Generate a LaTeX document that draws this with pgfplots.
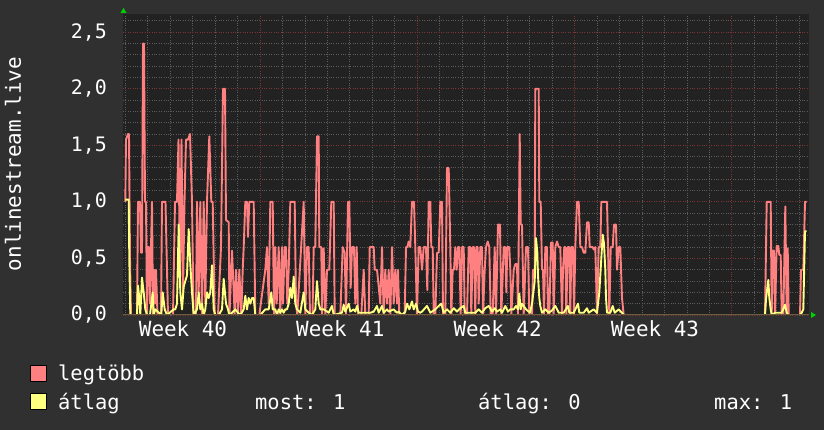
\documentclass[border=0pt]{standalone}
\usepackage{fontspec}
\setmainfont{DejaVu Sans Mono}
\usepackage{pgfplots}
\pgfplotsset{compat=1.18}
\definecolor{outerbg}{RGB}{48,48,48}
\definecolor{plotbg}{RGB}{34,34,34}
\definecolor{redl}{RGB}{255,128,128}
\definecolor{yell}{RGB}{255,255,128}
\definecolor{gridminor}{RGB}{92,92,92}
\definecolor{gridmajor}{RGB}{125,52,52}
\definecolor{axisol}{RGB}{105,95,60}
\definecolor{arrowg}{RGB}{0,210,0}
\begin{document}
\begin{tikzpicture}
\useasboundingbox (0,0) rectangle (824bp,430bp);
\fill[outerbg] (0,0) rectangle (824bp,430bp);
\begin{axis}[
  at={(123bp,115bp)}, anchor=south west,
  scale only axis, width=686bp, height=301bp,
  xmin=123, xmax=809, ymin=0, ymax=2.661,
  axis background/.style={fill=plotbg},
  axis line style={draw=none},
  major tick length=0pt, minor tick length=0pt,
  /pgf/number format/assume math mode=true,
  xtick={183,340.3,497.6,654.9},
  xticklabels={Week 40,Week 41,Week 42,Week 43},
  minor xtick={125.2,147.67,170.14,192.61,215.08,237.55,282.49,304.96,327.43,349.9,372.37,394.84,439.78,462.25,484.72,507.19,529.66,552.13,597.07,619.54,642.01,664.48,686.95,709.42,754.36,776.83,799.3},
  extra x ticks={260.02,417.31,574.6,731.89},
  extra x tick labels={},
  extra x tick style={grid=major},
  ytick={0,0.5,1,1.5,2,2.5},
  yticklabels={{0,0},{0,5},{1,0},{1,5},{2,0},{2,5}},
  minor ytick={0.1,0.2,0.3,0.4,0.6,0.7,0.8,0.9,1.1,1.2,1.3,1.4,1.6,1.7,1.8,1.9,2.1,2.2,2.3,2.4,2.6},
  xminorgrids, yminorgrids, ymajorgrids,
  minor grid style={gridminor, dotted, line width=0.9bp},
  major grid style={gridmajor, dotted, line width=0.9bp},
  yticklabel style={font=\fontsize{20}{24}\selectfont, text=white, anchor=east, inner sep=0pt, xshift=-16bp},
  xticklabel style={font=\fontsize{21}{24}\selectfont, text=white, anchor=base, inner sep=0pt, yshift=-22bp},
  unbounded coords=jump,
  clip=true,
]
\addplot[redl, line width=1.9bp, line join=round] coordinates {
(125.3,1.0)(126,1.55)(128,1.6)(129,1.6)(130,0.5)(131,0)(137,0)(138,1.0)(140,1.0)(141,0.55)(142,0.55)(143,2.4)(144,2.4)(145,1.0)(146,1.0)(147,0)(148,0.6)(149,0.6)(150,0.1)(151,0.6)(152,1.0)(153,0)(154,0.4)(155,0.1)(156,0.4)(157.5,0)(161,0)(162,1.0)(165.5,1.0)(166.5,0.6)(168,0)(173,0)(175,1.0)(177,1.0)(178.5,1.55)(180,0.3)(181.5,1.55)(183,0.2)(184.5,1.0)(186,1.55)(188,1.55)(190,1.6)(192,1.0)(193.5,0)(196,0)(197,1.0)(198.7,0.2)(200.3,1.0)(202,0)(203.7,1.0)(205.3,0.1)(207,1.0)(209.3,1.58)(211.3,1.0)(212.7,1.0)(214.7,0)(218,0)(221,0.6)(223,2.0)(225,2.0)
(226,0.84)(228.7,0.82)(229.5,0)(232,0.57)(234.7,0)(236,0.4)(238,0)(239.3,0.4)(241.3,0)(242.7,0.4)(243.7,0.6)(245.3,1.0)(247,1.0)(248,0.69)(249.3,1.0)(253.7,1.0)(255.3,0)(259.3,0)(265.3,0.4)(267,0.6)(268.7,0.1)(270.3,1.0)(272.7,1.0)(274,0)(275.3,0.6)(276.7,0.1)(278.7,0.6)(280.3,0)(282,0.6)(283,0.1)(284.7,0.6)(286,0.6)(287.3,0.1)(288.7,0.4)(290.3,1.0)(294.7,1.0)(296,0.1)(297.3,0)(303.7,1.0)(305.3,0)(307,0.6)(308.7,0.6)(310,0)(312.5,0)(313.7,0.6)(315.3,0.6)(317,1.58)(318.7,1.58)(319.3,0.6)(321.3,0.6)(322,0)
(323.7,0.59)(325.3,0)(327,0.4)(329.3,0.4)(331.3,1.0)(333.7,1.0)(334.7,0)(340.3,0)(342.7,0.6)(344.7,0.55)(346,0)(348,1.0)(349.3,1.0)(350.7,0.24)(352,0.6)(354,0.6)(355.3,0.1)(356.7,0.6)(358,0)(361.3,0)(363.7,0.4)(365.3,0)(368.7,0)(369.7,0.6)(373.7,0.6)(374.7,0.4)(377,0.4)(378.7,0.25)(380.3,0.1)(382,0.6)(383.7,0)(385.3,0.4)(387,0.1)(388.7,0.4)(390.3,0)(392,0.6)(393.7,0.1)(395.3,0.4)(397,0.1)(398,0.4)(399.3,0)(404.7,0)(406,0.6)(407.3,0.6)(408.7,0.65)(410.3,0.6)(412,1.0)(414,1.0)(415.3,0.6)(417,0)(418.7,0.6)(420.3,0.6)(422,0.4)(423.7,0.6)
(426,0.6)(427.3,0.22)(428.7,1.0)(430.3,1.0)(431.3,0.6)(432.7,0.6)(433.7,0)(435.3,0)(437,0.55)(438.7,0.55)(440.3,1.0)(442,1.0)(443,0)(445.3,0)(447,1.3)(448.7,1.3)(450.3,0.6)(451.3,0)(452.7,0.4)(454,0.4)(455.3,0.6)(456.7,0.4)(458,0.6)(459.3,0.6)(460.7,0)(462,0.6)(463.7,0.6)(464.7,0)(467,0)(468.7,0.6)(470.3,0.6)(471.3,0)(472.7,0.6)(474,0.6)(475.3,0)(476.3,0.6)(477.7,0.6)(478.7,0.1)(480.3,0.6)(482,0.6)(483,0)(484.7,0.4)(486,0.6)(487.7,0.65)(489.3,0.6)(490.7,0)(492.7,0)(494.7,0.6)(496,0)(498,0.8)(500,0.8)(501.3,0)(503.7,0.6)(505.3,0.6)(506.3,0.2)(507.3,0.6)(509.3,0.6)(510.3,0.4)(511.3,0)(513.7,0.4)(515.3,0.45)(517,0.45)(518,0)(519.7,1.6)(520.7,0.8)(522,0.8)
(523.7,0)(526,0.6)(528,0.6)(529.3,0)(532,0)(533,0.4)(534.7,0.4)(535.3,2.0)(538.7,2.0)(539.3,1.0)(540.7,1.0)(542,0.4)(543,0.4)(544,0)(545.3,0.6)(547,0.6)(548,0)(549.3,0)(551,0.64)(552.7,0.64)(553.7,0)(555.3,0.6)(557,0.65)(558.7,0.6)(560.3,0.6)(562,0)(563,0.4)(564.3,0.6)(565.3,0.6)(566.3,0)(567.7,0.6)(569.3,0.6)(570.3,0)(571.3,0.6)(573,0.6)(574,0)(575.3,0.6)(577,1.0)(578.7,1.0)(580.3,0.6)(582,0.6)(583.7,0.55)(585.3,0.55)(587,0.82)(588.7,0.82)(589.7,0.6)(591.3,0.6)(592.7,0.6)(593.7,0.58)(595.3,0.6)(597,0)(598.7,0.6)(600.3,0.6)(601.3,1.0)(607,1.0)(608,0.6)(609.3,0)(610.7,0.6)(612.7,0.6)(614,0.8)(616,0.8)(617,0.4)(618.7,0.6)(620.3,0.6)(622,0.15)(623.7,0)
(700,nan)
(765,0)(766.7,1.0)(770.7,1.0)(771.7,0)(772.7,0.57)(774,0.57)(775,0)(776.7,0.61)(778.3,0.61)(779.3,0.53)(780.7,0.53)(781.7,0)(783.3,0)(785.3,0.96)(786.7,0)(787.7,0.59)(788.7,0)(800,0)(801,0.4)(803.3,0.4)(805,1.0)(806.7,1.0)
};
\addplot[yell, line width=1.9bp, line join=round] coordinates {
(125.3,1.02)(128.7,1.02)(129.3,0.5)(130.3,0)(137,0)(138,0.26)(139.3,0.15)(140.3,0)(142,0.33)(143.7,0.2)(145.3,0.05)(147,0)(150,0)(152.7,0.2)(153.7,0)(155.3,0.05)(161.3,0)(162.7,0.2)(164.7,0.05)(167,0)(173.7,0.05)(175.3,0.05)(177,0.1)(178.7,0.8)(180.3,0.2)(182,0.05)(183.7,0.25)(185.3,0.3)(187,0.35)(188.7,0.76)(190.3,0.45)(192,0.2)(193.7,0)(197,0.05)(198.7,0.2)(200.3,0.05)(202,0.1)(203.7,0)(205.3,0.05)(207,0.2)(208.7,0.15)(210.3,0.2)(212,0.44)(213.7,0.05)(215.3,0)(218.7,0)(222,0.05)
(223.7,0.32)(226,0.1)(228,0.05)(229.3,0)(232,0.02)(235.3,0.05)(238,0.02)(240.3,0)(243.7,0.05)(245.3,0.17)(247,0.05)(248.7,0.15)(250.3,0.1)(252,0.15)(253.7,0.15)(255.3,0)(260.3,0)(265.3,0.05)(268.7,0.05)(271.3,0.2)(272.7,0.05)(275.3,0.05)(277,0)(278.7,0.05)(280.3,0.02)(282,0.05)(283.7,0.02)(285.3,0.05)(287,0.05)(288.7,0.1)(290.3,0.24)(292,0.15)(293.7,0.34)(295.3,0.1)(297,0.05)(300.3,0.02)(303.7,0.2)(305.3,0.05)(308.7,0.02)(312,0)(315.3,0.05)(317,0.3)(318.7,0.1)(320.3,0.05)
(323.7,0.05)(328.7,0.02)(332,0.08)(333.7,0)(342,0.02)(343.7,0.09)(345.3,0.03)(348.7,0.1)(350.3,0.03)(353.7,0.05)(355.3,0.03)(357,0.08)(358.7,0.02)(368.7,0.02)(370.3,0.02)(373.7,0.03)(377,0.08)(378.7,0.02)(380.3,0.05)(382,0.08)(383.7,0.02)(387,0.05)(388.7,0.03)(393.7,0.05)(397,0.02)(398.7,0.03)(402,0)(405.3,0.03)(407,0.1)(409.3,0.05)(412,0.12)(413.7,0.05)(416,0.1)(418,0.03)(420.3,0.02)
(422,0.03)(427,0.08)(430.3,0.02)(435.3,0.05)(438.7,0.08)(441.3,0.1)(443.7,0.02)(447,0.05)(450.3,0.02)(453.7,0.06)(457,0.03)(460.3,0.06)(463.7,0.08)(465.3,0.02)(468.7,0.02)(472,0.02)(475.3,0.02)(478.7,0.05)(482,0.02)(485.3,0.06)(488.7,0.08)(492,0.03)(494.7,0.06)(497,0.03)(500.3,0.05)(502,0.02)(505.3,0.08)(508,0.03)(510.3,0.05)(513.7,0.05)(516,0.08)(518,0.05)(519.3,0.19)(520.7,0.05)
(522,0.1)(526,0.05)(530,0.02)(532,0.1)(534.7,0.3)(536,0.68)(537.3,0.55)(538,0.35)(539.3,0.15)(540.3,0.08)(542,0.02)(545.3,0.05)(548.7,0.02)(552,0.04)(555.3,0.08)(558.7,0.02)(563.7,0.02)(568,0.08)(569.3,0.02)(573.7,0.02)(578,0.1)(579.3,0.02)(583.7,0.02)(587,0.06)(588.7,0.02)(593.7,0.05)(597,0.02)(599.3,0.2)(601.3,0.5)(602.7,0.71)(604,0.63)(605.3,0.4)(606,0.15)(607,0.02)(610.3,0.02)(612.7,0.08)(614.7,0.02)(618.7,0.05)(622,0.02)(623.7,0)
(700,nan)
(765,0)(766,0.14)(768.3,0.31)(769.3,0.15)(770.7,0.05)(771.7,0)(775,0.02)(778.3,0.02)(781.7,0.02)(785,0.09)(786.7,0.02)(788.3,0)(800,0)(801.7,0.02)(803.3,0.05)(805,0.74)(806.7,0.74)
};
\draw[axisol, line width=1bp] (rel axis cs:0,0) -- (rel axis cs:1,0);
\end{axis}
% axis arrows
\fill[arrowg] (120.5bp,417bp) -- (126.5bp,417bp) -- (123.5bp,422bp) -- cycle;
\fill[arrowg] (811bp,118bp) -- (811bp,112bp) -- (816bp,115bp) -- cycle;
% y label
\node[rotate=90, text=white, font=\fontsize{21}{24}\selectfont, inner sep=0pt] at (13bp,266bp) {onlinestream.live};
% legend
\fill[redl, draw=black, line width=0.8bp] (30.5bp,48.3bp) rectangle (46.3bp,65bp);
\fill[yell, draw=black, line width=0.8bp] (30.5bp,20.7bp) rectangle (46.3bp,36.7bp);
\node[anchor=base west, inner sep=0pt, text=white, font=\fontsize{20.5}{24}\selectfont] at (58bp,49.3bp) {legtöbb};
\node[anchor=base west, inner sep=0pt, text=white, font=\fontsize{20.5}{24}\selectfont] at (58bp,21bp) {átlag};
\node[anchor=base west, inner sep=0pt, text=white, font=\fontsize{20.5}{24}\selectfont] at (255bp,21bp) {most: 1};
\node[anchor=base west, inner sep=0pt, text=white, font=\fontsize{20.5}{24}\selectfont] at (478bp,21bp) {átlag: 0};
\node[anchor=base west, inner sep=0pt, text=white, font=\fontsize{20.5}{24}\selectfont] at (714bp,21bp) {max: 1};
\end{tikzpicture}
\end{document}
